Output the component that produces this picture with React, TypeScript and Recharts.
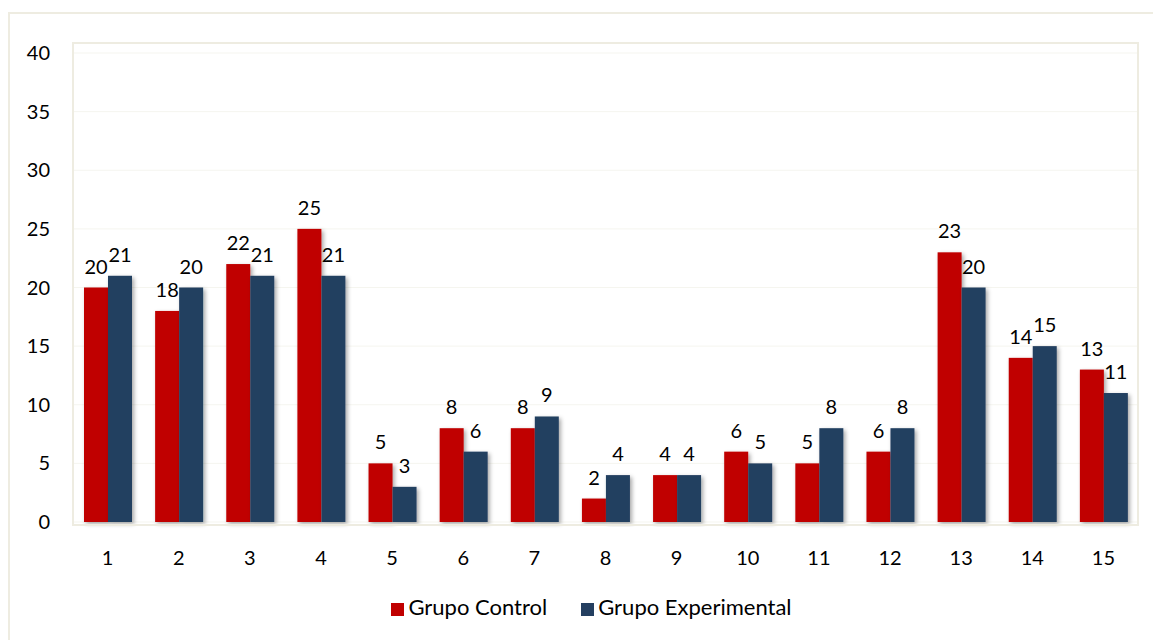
import React from "react"
import { Bar, BarChart, CartesianGrid, LabelList, Legend, XAxis, YAxis } from "recharts"

const categorias = ["1", "2", "3", "4", "5", "6", "7", "8", "9", "10", "11", "12", "13", "14", "15"]
const grupoControl = [20, 18, 22, 25, 5, 8, 8, 2, 4, 6, 5, 6, 23, 14, 13]
const grupoExperimental = [21, 20, 21, 21, 3, 6, 9, 4, 4, 5, 8, 8, 20, 15, 11]
const yTicks = [0, 5, 10, 15, 20, 25, 30, 35, 40]

const data = categorias.map((c, i) => ({
  name: c,
  "Grupo Control": grupoControl[i],
  "Grupo Experimental": grupoExperimental[i],
}))

const font = "Lato, 'Open Sans', sans-serif"

function ShadowBar(props: any) {
  const { x, y, width, height, fill } = props
  if (!height) return null
  return <rect x={x} y={y} width={width} height={height} fill={fill} filter="url(#sombra)" />
}

export default function App() {
  return (
    <div style={{ position: "fixed", left: 0, top: 0, width: 1153, height: 640, background: "#fff", fontFamily: font }}>
      <div
        style={{
          position: "absolute",
          left: 8,
          top: 12,
          width: 1160,
          height: 640,
          border: "2px solid #EEECE1",
          boxSizing: "border-box",
        }}
      />
      <div style={{ position: "absolute", left: 0, top: 0 }}>
        <BarChart
          width={1153}
          height={640}
          data={data}
          margin={{ top: 53, right: 14, left: 8, bottom: 20 }}
          barSize={24}
          barGap={0}
        >
          <defs>
            <filter id="sombra" x="-20%" y="-5%" width="150%" height="115%">
              <feDropShadow dx="2" dy="2" stdDeviation="2" floodColor="#000" floodOpacity="0.35" />
            </filter>
          </defs>
          <CartesianGrid vertical={false} stroke="#F5F5EF" />
          <XAxis
            dataKey="name"
            tick={{ fill: "#000", fontSize: 20, fontFamily: font }}
            axisLine={false}
            tickLine={false}
            tickMargin={23}
            height={71}
          />
          <YAxis
            domain={[0, 40]}
            ticks={yTicks}
            tick={{ fill: "#000", fontSize: 20, fontFamily: font }}
            axisLine={false}
            tickLine={false}
            width={64}
            tickMargin={16}
          />
          <Legend
            verticalAlign="bottom"
            iconType="square"
            iconSize={13}
            wrapperStyle={{ fontSize: 22, fontFamily: font, color: "#000", paddingLeft: 70, boxSizing: "border-box" }}
            formatter={(v: string) => <span style={{ color: "#000", marginRight: 24 }}>{v}</span>}
          />
          <Bar dataKey="Grupo Control" fill="#C00000" shape={<ShadowBar />} isAnimationActive={false}>
            <LabelList dataKey="Grupo Control" position="top" offset={14} style={{ fill: "#000", fontSize: 20, fontFamily: font }} />
          </Bar>
          <Bar dataKey="Grupo Experimental" fill="#243F60" shape={<ShadowBar />} isAnimationActive={false}>
            <LabelList dataKey="Grupo Experimental" position="top" offset={14} style={{ fill: "#000", fontSize: 20, fontFamily: font }} />
          </Bar>
        </BarChart>
      </div>
      <div
        style={{
          position: "absolute",
          left: 72,
          top: 42,
          width: 1139 - 72,
          height: 526 - 42,
          border: "2px solid #EEECE1",
          boxSizing: "border-box",
          pointerEvents: "none",
        }}
      />
    </div>
  )
}
